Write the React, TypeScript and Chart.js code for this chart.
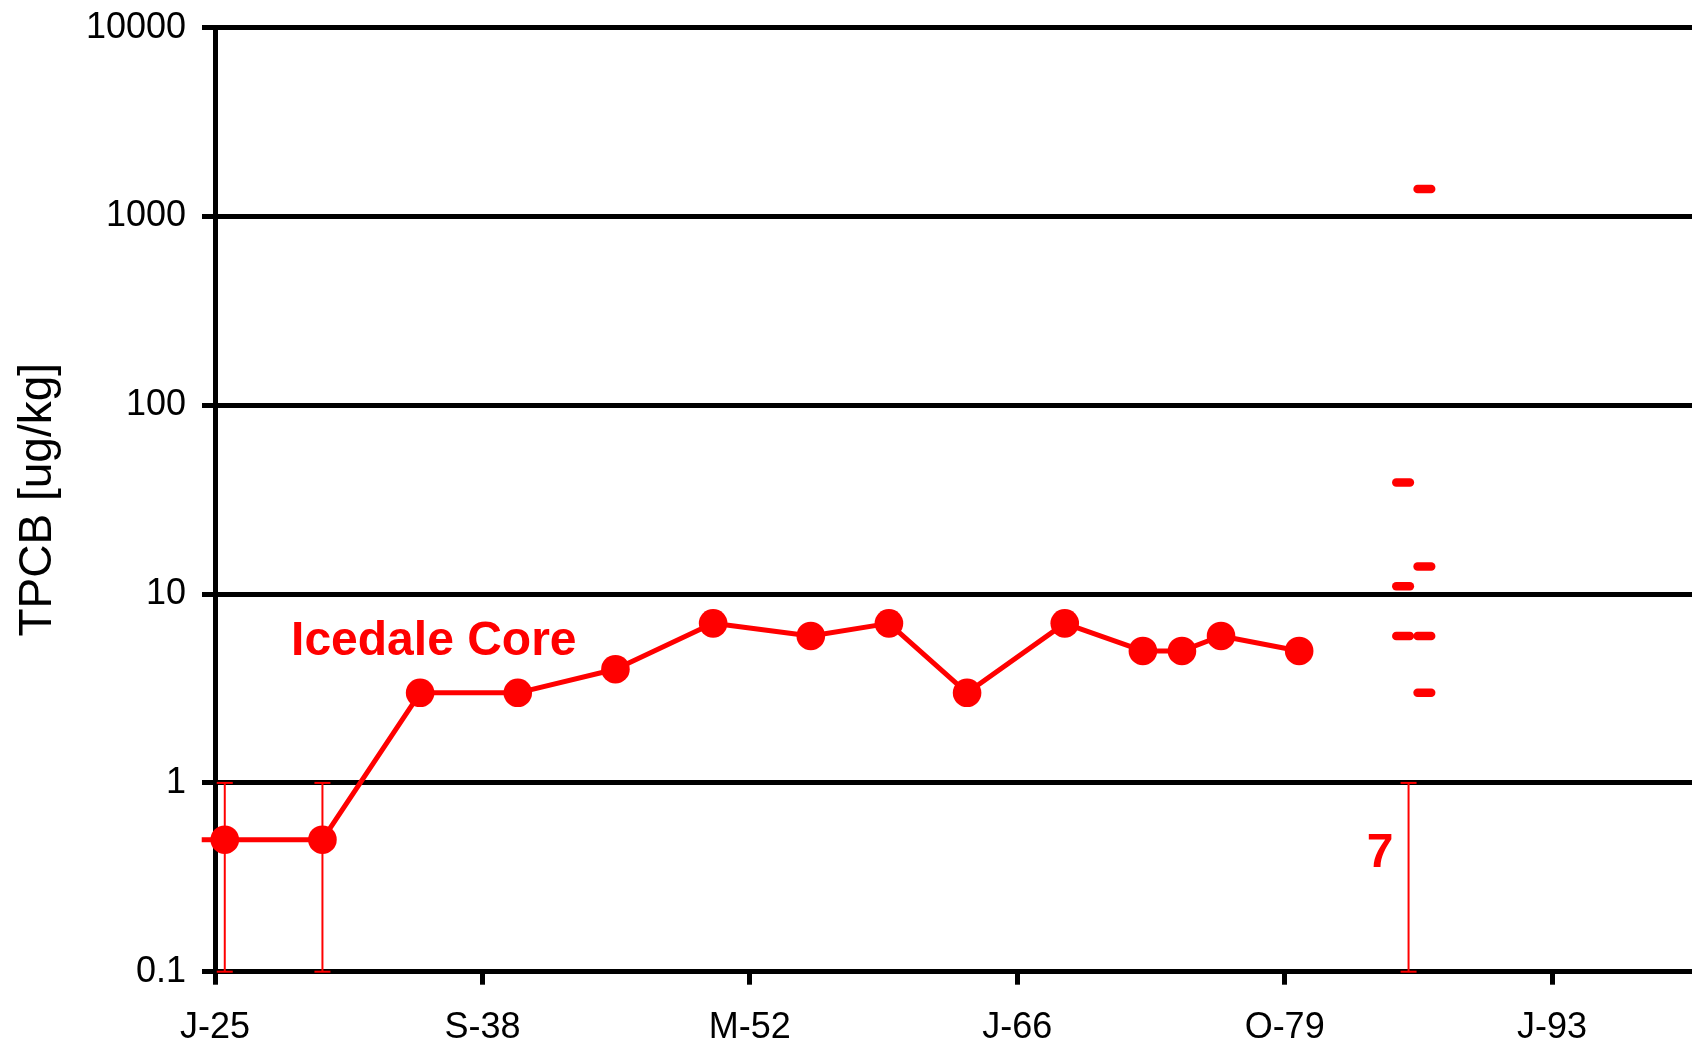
import React, { useEffect, useRef } from "react";
import { Chart, registerables } from "chart.js";

Chart.register(...registerables);

// ---- Axis definitions ----
const xTickLabels = ["J-25", "S-38", "M-52", "J-66", "O-79", "J-93"];
const xAxisStartYear = 1925;
const xTickStepDays = 5000;
const xAxisEndYear = 2000.61;

const yTickValues = [0.1, 1, 10, 100, 1000, 10000];
const yTickLabels = ["0.1", "1", "10", "100", "1000", "10000"];
const yAxisTitle = "TPCB [ug/kg]";

// ---- Icedale Core series ----
const coreYears = [1925.5, 1930.5, 1935.5, 1940.5, 1945.5, 1950.5, 1955.5, 1959.5, 1963.5, 1968.5, 1972.5, 1974.5, 1976.5, 1980.5];
const coreTPCB = [0.5, 0.5, 3, 3, 4, 7, 6, 7, 3, 7, 5, 5, 6, 5];

// horizontal lead-in of the first point
const leadInYears = [1924.32, 1925.5];
const leadInTPCB = [0.5, 0.5];

// ---- Error bars (non-detects) ----
const errorBarYears = [1925.5, 1930.5, 1986.1];
const errorBarLow = [0.1, 0.1, 0.1];
const errorBarHigh = [1, 1, 1];

// ---- Dash markers ----
const dashYears = [1985.82, 1985.82, 1985.82, 1986.91, 1986.91, 1986.91, 1986.91];
const dashTPCB = [39, 11, 6, 1400, 14, 6, 3];

// ---- Text labels ----
const labelTexts = ["Icedale Core", "7"];
const labelYears = [1936.2, 1984.64];
const labelTPCB = [4.75, 0.359];

const RED = "#ff0000";
const FONT = "'Liberation Sans', Arial, Helvetica, sans-serif";

const yearToTick = (i: number) => xAxisStartYear + (i * xTickStepDays) / 365.25;

const capPlugin = {
  id: "roundCaps",
  beforeDatasetDraw(chart: any, args: any) {
    const ds = chart.data.datasets[args.index];
    if (ds && ds.roundCap) chart.ctx.lineCap = "round";
  },
  afterDatasetDraw(chart: any) {
    chart.ctx.lineCap = "butt";
  },
};

const labelPlugin = {
  id: "textLabels",
  afterDatasetsDraw(chart: any) {
    const { ctx } = chart;
    const x = chart.scales.x;
    const y = chart.scales.y;
    ctx.save();
    ctx.fillStyle = RED;
    ctx.font = `bold 48px ${FONT}`;
    ctx.textAlign = "center";
    ctx.textBaseline = "alphabetic";
    labelTexts.forEach((t, i) => {
      ctx.fillText(t, x.getPixelForValue(labelYears[i]), y.getPixelForValue(labelTPCB[i]));
    });
    ctx.restore();
  },
};

export default function App() {
  const canvasRef = useRef<HTMLCanvasElement | null>(null);

  useEffect(() => {
    if (!canvasRef.current) return;

    const datasets: any[] = [
      {
        label: "Icedale Core",
        data: coreYears.map((x, i) => ({ x, y: coreTPCB[i] })),
        showLine: true,
        borderColor: RED,
        backgroundColor: RED,
        borderWidth: 5,
        borderJoinStyle: "round",
        pointRadius: 14.3,
        pointBorderWidth: 0,
        pointBackgroundColor: RED,
        pointBorderColor: RED,
        clip: false,
      },
      {
        label: "lead",
        data: leadInYears.map((x, i) => ({ x, y: leadInTPCB[i] })),
        showLine: true,
        borderColor: RED,
        borderWidth: 5,
        pointRadius: 0,
        clip: false,
      },
      {
        label: "dashes",
        data: dashYears.map((x, i) => ({ x, y: dashTPCB[i] })),
        showLine: false,
        pointStyle: "line",
        pointRadius: 6.8,
        pointBorderWidth: 8.5,
        pointBorderColor: RED,
        pointBackgroundColor: RED,
        roundCap: true,
        clip: false,
      },
      ...errorBarYears.map((x, i) => ({
        label: "err" + i,
        data: [
          { x, y: errorBarLow[i] },
          { x, y: errorBarHigh[i] },
        ],
        showLine: true,
        borderColor: RED,
        borderWidth: 2,
        pointStyle: "line",
        pointRadius: 8,
        pointBorderWidth: 2,
        pointBorderColor: RED,
        pointBackgroundColor: RED,
        clip: false,
      })),
    ];

    const chart = new Chart(canvasRef.current, {
      type: "scatter",
      data: { datasets },
      plugins: [capPlugin, labelPlugin],
      options: {
        responsive: false,
        animation: false,
        devicePixelRatio: 1,
        layout: { autoPadding: false, padding: { top: 27.7, right: 0, bottom: 0, left: 0 } },
        plugins: {
          legend: { display: false },
          tooltip: { enabled: false },
        },
        scales: {
          x: {
            type: "linear",
            min: xAxisStartYear,
            max: xAxisEndYear,
            afterBuildTicks: (s: any) => {
              s.ticks = xTickLabels.map((_, i) => ({ value: yearToTick(i) }));
            },
            afterFit: (s: any) => {
              s.height = 73.3;
              s.paddingLeft = 0;
              s.paddingRight = 0;
            },
            grid: {
              drawOnChartArea: false,
              drawTicks: true,
              tickLength: 13,
              lineWidth: 5,
              color: "#000",
            },
            border: { display: true, color: "#000", width: 5 },
            ticks: {
              autoSkip: false,
              maxRotation: 0,
              minRotation: 0,
              padding: 22,
              color: "#000",
              font: { family: FONT, size: 36 },
              callback: (_v: any, i: number) => xTickLabels[i],
            },
          },
          y: {
            type: "logarithmic",
            min: yTickValues[0],
            max: yTickValues[yTickValues.length - 1],
            afterBuildTicks: (s: any) => {
              s.ticks = yTickValues.map((v) => ({ value: v }));
            },
            afterFit: (s: any) => {
              s.width = 215;
              s.paddingTop = 0;
              s.paddingBottom = 0;
            },
            grid: {
              drawOnChartArea: true,
              drawTicks: true,
              tickLength: 13,
              lineWidth: 5,
              color: "#000",
            },
            border: { display: true, color: "#000", width: 5 },
            ticks: {
              padding: 16,
              color: "#000",
              font: { family: FONT, size: 36 },
              callback: (_v: any, i: number) => yTickLabels[i],
            },
            title: {
              display: true,
              text: yAxisTitle,
              color: "#000",
              font: { family: FONT, size: 46 },
              padding: { top: 11, bottom: 0 },
            },
          },
        },
      } as any,
    });

    return () => chart.destroy();
  }, []);

  return (
    <div style={{ position: "fixed", left: 0, top: 0, width: 1692, height: 1045, background: "#fff" }}>
      <canvas ref={canvasRef} width={1692} height={1045} style={{ display: "block" }} />
    </div>
  );
}
